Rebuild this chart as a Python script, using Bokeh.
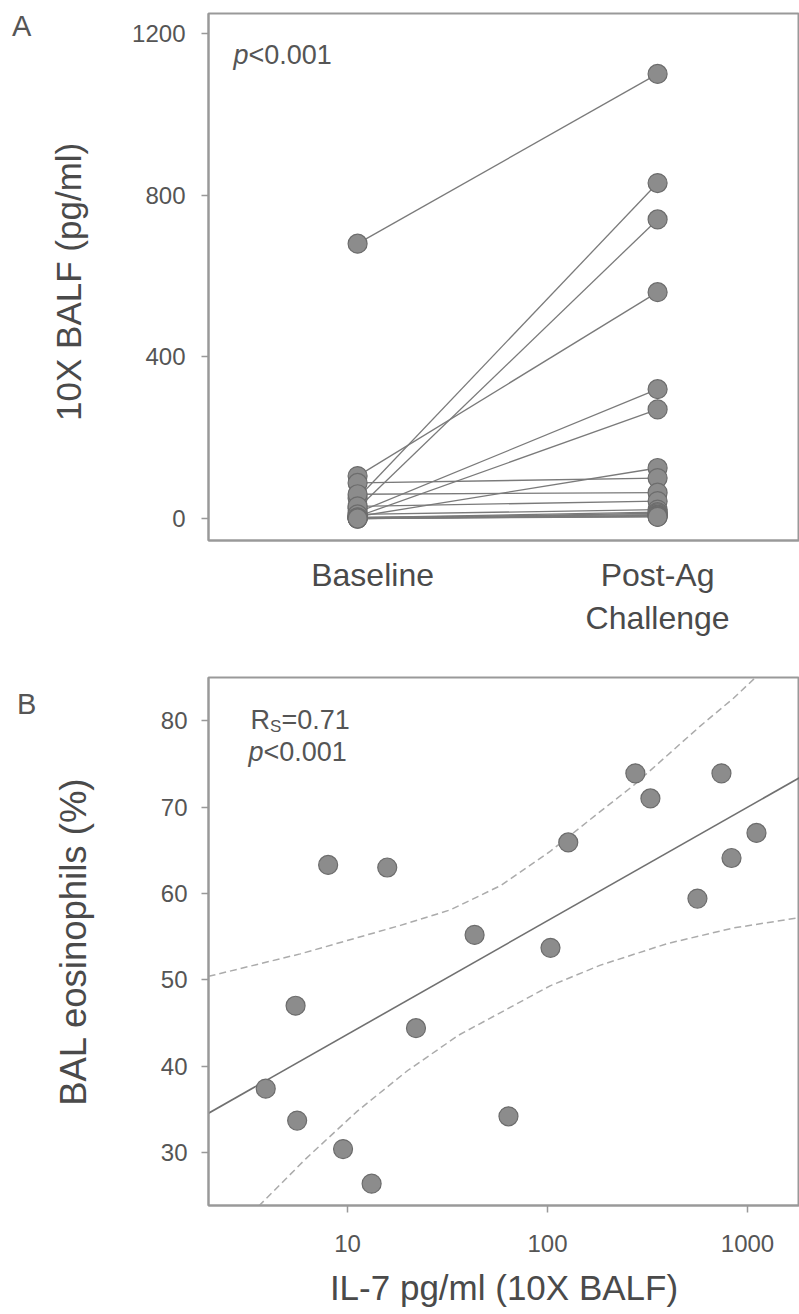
from bokeh.plotting import figure
from bokeh.layouts import column, row
from bokeh.models import Range1d, FixedTicker, Label, PrintfTickFormatter, Div
from bokeh.embed import file_html
from bokeh.resources import INLINE

# ---------------- Panel A data (IL-7, 10X BALF, pg/ml) ----------------
categories = ["Baseline", "Post-Ag\nChallenge"]
baseline = [680, 50, 25, 105, 15, 5, 5, 88, 60, 30, 10, 2, 0, 3, 0, 1, 0, 0]
post_ag = [1100, 830, 740, 560, 320, 270, 125, 100, 64, 43, 22, 16, 13, 9.5, 8, 5.5, 5.5, 4]
a_yticks = [0, 400, 800, 1200]

# ---------------- Panel B data ----------------
b_il7 = [8.0, 15.8, 275, 327, 127, 741, 1109, 832, 562, 43.2, 103.5, 5.5, 22.0, 3.9, 5.6, 63.8, 9.5, 13.2]
b_eos = [63.3, 63.0, 73.9, 71.0, 65.9, 73.9, 67.0, 64.1, 59.4, 55.2, 53.7, 47.0, 44.4, 37.4, 33.7, 34.2, 30.4, 26.4]
fit_x = [2.0, 1820]
fit_y = [34.5, 73.4]
ci_upper_x = [2.02, 5.8, 18.4, 32.7, 58.2, 103.5, 184, 269, 398, 582, 851, 1096]
ci_upper_y = [50.4, 53.0, 56.3, 58.1, 60.9, 64.9, 69.5, 72.5, 76.0, 79.4, 82.6, 85.0]
ci_lower_x = [3.6, 6.2, 11.2, 20, 36, 65, 103, 184, 398, 851, 1820]
ci_lower_y = [23.8, 29.3, 34.8, 39.5, 43.6, 46.8, 49.3, 51.7, 54.2, 56.0, 57.2]
b_yticks = [30, 40, 50, 60, 70, 80]
b_xticks = [10, 100, 1000]

FONT = "Liberation Sans"
AX = "#999999"
TXT = "#4a4a4a"
TICK = "#555555"
PT_FILL = "#8c8c8c"
PT_LINE = "#6c6c6c"


def style(p):
    p.background_fill_color = "white"
    p.border_fill_color = "white"
    p.outline_line_color = AX
    p.outline_line_width = 2
    p.xgrid.visible = False
    p.ygrid.visible = False
    for ax in (p.xaxis[0], p.yaxis[0]):
        ax.axis_line_color = AX
        ax.axis_line_width = 2
        ax.major_tick_line_color = AX
        ax.major_tick_line_width = 1.5
        ax.major_tick_in = 0
        ax.major_tick_out = 7
        ax.minor_tick_line_color = None
        ax.major_label_text_font = FONT
        ax.major_label_text_font_size = "24px"
        ax.major_label_text_color = TICK
        ax.axis_label_text_font = FONT
        ax.axis_label_text_font_size = "35px"
        ax.axis_label_text_font_style = "normal"
        ax.axis_label_text_color = TXT


def txt(x, y, s, size="27px", italic=False):
    return Label(x=x, y=y, x_units="screen", y_units="screen", text=s,
                 text_font=FONT, text_font_size=size,
                 text_font_style="italic" if italic else "normal",
                 text_color=TICK, text_baseline="middle")


def letter(s, left, top):
    return Div(text=(f'<div style="font-family:\'Liberation Sans\';font-size:29px;'
                     f'line-height:29px;color:#555555;padding-left:{left}px;'
                     f'padding-top:{top}px;margin:0;">{s}</div>'),
               width=40, height=90, margin=0)


# ---------------- Panel A ----------------
pa = figure(width=759, height=640, output_backend="svg", toolbar_location=None,
            x_range=Range1d(0.503, 2.473), y_range=Range1d(-54.4, 1249.5),
            min_border_left=168, min_border_right=0, min_border_top=13, min_border_bottom=100)
style(pa)
# the category label "Baseline" sits slightly right of its points in the reference
pa.xaxis.ticker = FixedTicker(ticks=[1.05, 2])
pa.xaxis.major_label_overrides = {1.05: categories[0], 2: categories[1]}
pa.xaxis.major_tick_out = 0
pa.xaxis.major_label_text_font_size = "32px"
pa.xaxis.major_label_text_color = TXT
pa.xaxis.major_label_standoff = 16
pa.yaxis.ticker = FixedTicker(ticks=a_yticks)
pa.yaxis.major_label_standoff = 16
pa.yaxis.axis_label = "10X  BALF (pg/ml)"
pa.yaxis.axis_label_standoff = 41

xs = [[1, 2] for _ in baseline]
ys = [[b, a] for b, a in zip(baseline, post_ag)]
pa.multi_line(xs, ys, line_color="#7a7a7a", line_width=1.3)
pa.scatter([1] * len(baseline), baseline, size=19, marker="circle",
           fill_color=PT_FILL, line_color=PT_LINE, line_width=1.2)
pa.scatter([2] * len(post_ag), post_ag, size=19, marker="circle",
           fill_color=PT_FILL, line_color=PT_LINE, line_width=1.2)

pa.add_layout(txt(25, 486, "p", italic=True))
pa.add_layout(txt(40, 486, "<0.001"))

# ---------------- Panel B ----------------
pb = figure(width=759, height=673, output_backend="svg", toolbar_location=None,
            x_axis_type="log", x_range=Range1d(2.018, 1820), y_range=Range1d(23.87, 85),
            min_border_left=168, min_border_right=0, min_border_top=37, min_border_bottom=108)
style(pb)
pb.xaxis.ticker = FixedTicker(ticks=b_xticks)
pb.xaxis.formatter = PrintfTickFormatter(format="%d")
pb.xaxis.major_label_standoff = 22
pb.xaxis.axis_label = "IL-7 pg/ml (10X BALF)"
pb.xaxis.axis_label_standoff = 13
pb.yaxis.ticker = FixedTicker(ticks=b_yticks)
pb.yaxis.major_label_standoff = 14
pb.yaxis.axis_label = "BAL eosinophils (%)"
pb.yaxis.axis_label_text_font_size = "36.5px"
pb.yaxis.axis_label_standoff = 64

pb.line(ci_upper_x, ci_upper_y, line_color="#ababab", line_width=1.5, line_dash="7 4")
pb.line(ci_lower_x, ci_lower_y, line_color="#ababab", line_width=1.5, line_dash="7 4")
pb.line(fit_x, fit_y, line_color="#707070", line_width=1.6)
pb.scatter(b_il7, b_eos, size=19, marker="circle",
           fill_color=PT_FILL, line_color=PT_LINE, line_width=1.2)

pb.add_layout(txt(42, 485.5, "R"))
pb.add_layout(txt(61.5, 479.5, "S", size="17px"))
pb.add_layout(txt(73, 485.5, "=0.71"))
pb.add_layout(txt(40, 453.5, "p", italic=True))
pb.add_layout(txt(55, 453.5, "<0.001"))

layout = column(row(letter("A", 12, 12), pa, spacing=0),
                row(letter("B", 17, 50), pb, spacing=0), spacing=0)
open("out.html", "w").write(file_html(layout, INLINE))
